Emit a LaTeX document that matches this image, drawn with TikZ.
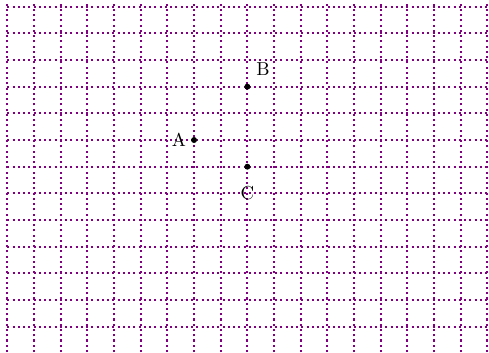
\documentclass[tikz,border=0pt]{standalone}
\usetikzlibrary{positioning}
\definecolor{gridpurple}{RGB}{128,0,128}
\begin{document}
\begin{tikzpicture}[x=0.5cm,y=0.5cm,
                    grid line/.style={gridpurple,line width=1.1pt,dash pattern=on 1.1pt off 1.7pt},
                    main node/.style={circle,fill=black,inner sep=0pt,minimum size=3.2pt}
                   ]
      \useasboundingbox (-7.275,-7.95) rectangle (11.06,5.25);
      \draw[grid line,step=0.5cm] (-7,-7.95) grid (11.06,5.2);
      \node[main node] (A) at (0,0) {};
      \node[main node] (B) at (2,2) {};
      \node[main node] (C) at (2,-1) {};
      \node (lA) [left=-1pt of A] {A};  % labels beside the points
      \node (lB) [above right=1pt and 0pt of B] {B};
      \node (lC) [below=5pt of C] {C};
\end{tikzpicture}
\end{document}
